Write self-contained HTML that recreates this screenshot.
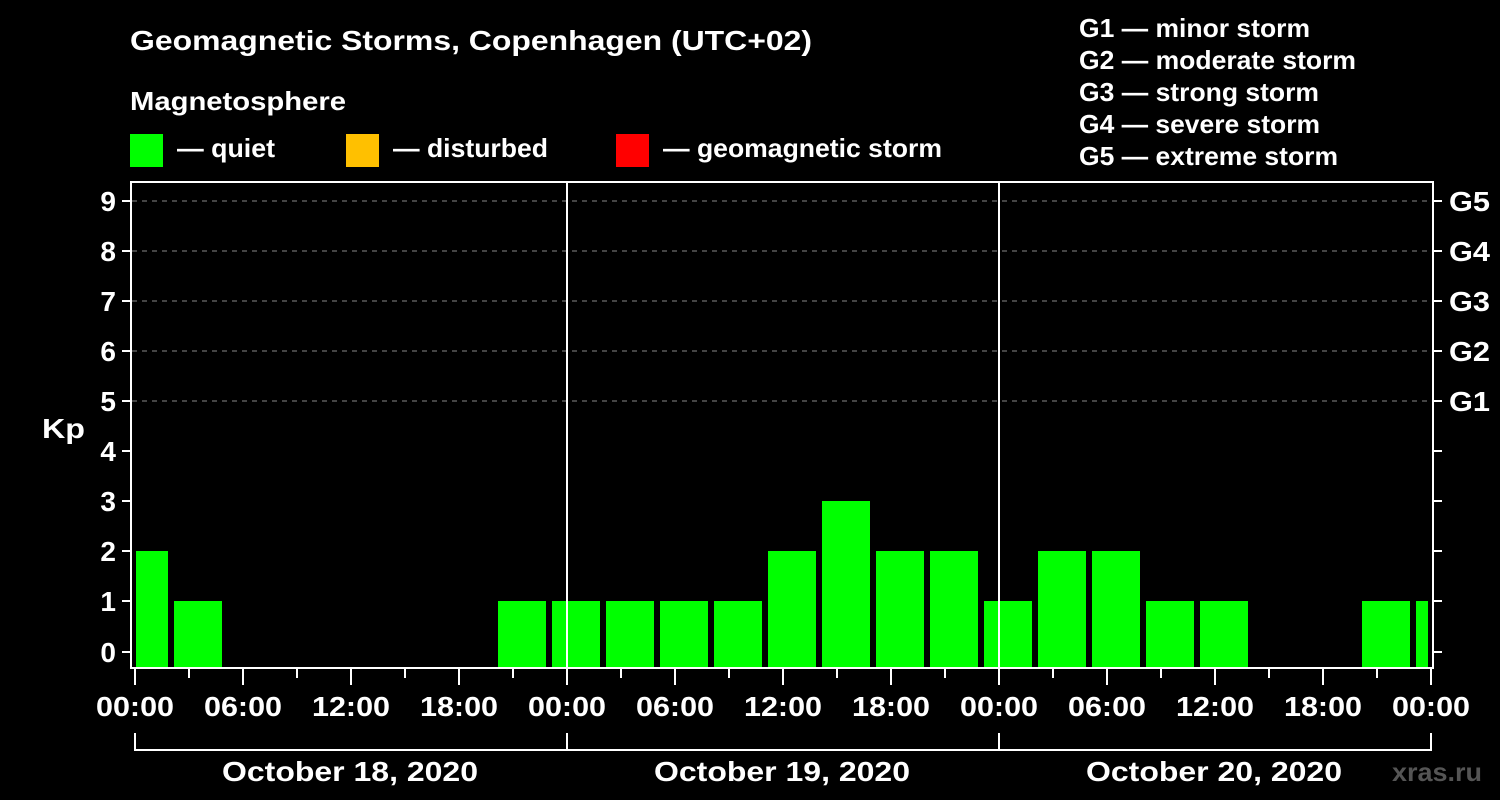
<!DOCTYPE html>
<html><head><meta charset="utf-8"><style>
html,body{margin:0;padding:0;background:#000;}
svg{display:block;}
text{font-family:"Liberation Sans",Arial,sans-serif;font-weight:bold;fill:#fff;}
</style></head><body>
<svg width="1500" height="800" viewBox="0 0 1500 800" xmlns="http://www.w3.org/2000/svg">
<rect width="1500" height="800" fill="#000"/>
<text x="130" y="50" font-size="28" textLength="682" lengthAdjust="spacingAndGlyphs">Geomagnetic Storms, Copenhagen (UTC+02)</text>
<text x="130" y="110" font-size="26" textLength="216" lengthAdjust="spacingAndGlyphs">Magnetosphere</text>
<rect x="130" y="134" width="33" height="33" fill="#00ff00"/>
<text x="177" y="157" font-size="26" textLength="98" lengthAdjust="spacingAndGlyphs">— quiet</text>
<rect x="346" y="134" width="33" height="33" fill="#ffc000"/>
<text x="393" y="157" font-size="26" textLength="155" lengthAdjust="spacingAndGlyphs">— disturbed</text>
<rect x="616" y="134" width="33" height="33" fill="#ff0000"/>
<text x="663" y="157" font-size="26" textLength="279" lengthAdjust="spacingAndGlyphs">— geomagnetic storm</text>
<g font-size="26">
<text x="1079" y="37" textLength="231" lengthAdjust="spacingAndGlyphs">G1 — minor storm</text>
<text x="1079" y="69" textLength="277" lengthAdjust="spacingAndGlyphs">G2 — moderate storm</text>
<text x="1079" y="101" textLength="240" lengthAdjust="spacingAndGlyphs">G3 — strong storm</text>
<text x="1079" y="133" textLength="241" lengthAdjust="spacingAndGlyphs">G4 — severe storm</text>
<text x="1079" y="165" textLength="259" lengthAdjust="spacingAndGlyphs">G5 — extreme storm</text>
</g>
<g stroke="#888" stroke-dasharray="5,5" stroke-width="1">
<line x1="132" y1="201" x2="1432" y2="201"/>
<line x1="132" y1="251" x2="1432" y2="251"/>
<line x1="132" y1="301" x2="1432" y2="301"/>
<line x1="132" y1="351" x2="1432" y2="351"/>
<line x1="132" y1="401" x2="1432" y2="401"/>
</g>
<g fill="#00ff00">
<rect x="136" y="551" width="32" height="117"/>
<rect x="174" y="601" width="48" height="67"/>
<rect x="498" y="601" width="48" height="67"/>
<rect x="552" y="601" width="48" height="67"/>
<rect x="606" y="601" width="48" height="67"/>
<rect x="660" y="601" width="48" height="67"/>
<rect x="714" y="601" width="48" height="67"/>
<rect x="768" y="551" width="48" height="117"/>
<rect x="822" y="501" width="48" height="167"/>
<rect x="876" y="551" width="48" height="117"/>
<rect x="930" y="551" width="48" height="117"/>
<rect x="984" y="601" width="48" height="67"/>
<rect x="1038" y="551" width="48" height="117"/>
<rect x="1092" y="551" width="48" height="117"/>
<rect x="1146" y="601" width="48" height="67"/>
<rect x="1200" y="601" width="48" height="67"/>
<rect x="1362" y="601" width="48" height="67"/>
<rect x="1416" y="601" width="12" height="67"/>
</g>
<g stroke="#fff" stroke-width="2" fill="none">
<rect x="131" y="182" width="1302" height="486"/>
<line x1="567" y1="182" x2="567" y2="668"/>
<line x1="999" y1="182" x2="999" y2="668"/>
<path d="M122 201H131M122 251H131M122 301H131M122 351H131M122 401H131M122 451H131M122 501H131M122 551H131M122 601H131M122 652H131"/>
<path d="M1433 201H1442M1433 251H1442M1433 301H1442M1433 351H1442M1433 401H1442M1433 451H1442M1433 501H1442M1433 551H1442M1433 601H1442M1433 652H1442"/>
<path d="M135 668V685M189 668V678M243 668V685M297 668V678M351 668V685M405 668V678M459 668V685M513 668V678M567 668V685M621 668V678M675 668V685M729 668V678M783 668V685M837 668V678M891 668V685M945 668V678M999 668V685M1053 668V678M1107 668V685M1161 668V678M1215 668V685M1269 668V678M1323 668V685M1377 668V678M1431 668V685"/>
<path d="M135 733V750H1431V733M567 733V750M999 733V750"/>
</g>
<g font-size="28" text-anchor="end">
<text x="116" y="211">9</text><text x="116" y="261">8</text><text x="116" y="311">7</text>
<text x="116" y="361">6</text><text x="116" y="411">5</text><text x="116" y="461">4</text>
<text x="116" y="511">3</text><text x="116" y="561">2</text><text x="116" y="611">1</text>
<text x="116" y="662">0</text>
</g>
<text x="42" y="438" font-size="28" textLength="43" lengthAdjust="spacingAndGlyphs">Kp</text>
<g font-size="28">
<text x="1449" y="211" textLength="41" lengthAdjust="spacingAndGlyphs">G5</text>
<text x="1449" y="261" textLength="41" lengthAdjust="spacingAndGlyphs">G4</text>
<text x="1449" y="311" textLength="41" lengthAdjust="spacingAndGlyphs">G3</text>
<text x="1449" y="361" textLength="41" lengthAdjust="spacingAndGlyphs">G2</text>
<text x="1449" y="411" textLength="41" lengthAdjust="spacingAndGlyphs">G1</text>
</g>
<g font-size="28">
<text x="96" y="716" textLength="78" lengthAdjust="spacingAndGlyphs">00:00</text>
<text x="204" y="716" textLength="78" lengthAdjust="spacingAndGlyphs">06:00</text>
<text x="312" y="716" textLength="78" lengthAdjust="spacingAndGlyphs">12:00</text>
<text x="420" y="716" textLength="78" lengthAdjust="spacingAndGlyphs">18:00</text>
<text x="528" y="716" textLength="78" lengthAdjust="spacingAndGlyphs">00:00</text>
<text x="636" y="716" textLength="78" lengthAdjust="spacingAndGlyphs">06:00</text>
<text x="744" y="716" textLength="78" lengthAdjust="spacingAndGlyphs">12:00</text>
<text x="852" y="716" textLength="78" lengthAdjust="spacingAndGlyphs">18:00</text>
<text x="960" y="716" textLength="78" lengthAdjust="spacingAndGlyphs">00:00</text>
<text x="1068" y="716" textLength="78" lengthAdjust="spacingAndGlyphs">06:00</text>
<text x="1176" y="716" textLength="78" lengthAdjust="spacingAndGlyphs">12:00</text>
<text x="1284" y="716" textLength="78" lengthAdjust="spacingAndGlyphs">18:00</text>
<text x="1392" y="716" textLength="78" lengthAdjust="spacingAndGlyphs">00:00</text>
<text x="222" y="781" textLength="256" lengthAdjust="spacingAndGlyphs">October 18, 2020</text>
<text x="654" y="781" textLength="256" lengthAdjust="spacingAndGlyphs">October 19, 2020</text>
<text x="1086" y="781" textLength="256" lengthAdjust="spacingAndGlyphs">October 20, 2020</text>
</g>
<text x="1392" y="781" font-size="26" textLength="90" lengthAdjust="spacingAndGlyphs" style="fill:#555">xras.ru</text>
</svg>
</body></html>
